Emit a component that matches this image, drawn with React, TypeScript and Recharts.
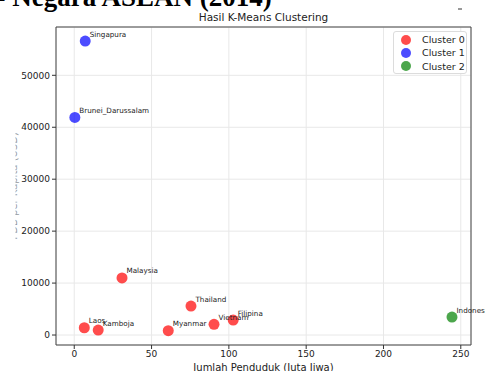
import React from 'react';
import {
  ScatterChart,
  Scatter,
  XAxis,
  YAxis,
  CartesianGrid,
  ReferenceArea,
} from 'recharts';

// data
const countries = ['Singapura', 'Brunei_Darussalam', 'Malaysia', 'Thailand', 'Filipina', 'Vietnam', 'Myanmar', 'Laos', 'Kamboja', 'Indonesia'];
const population = [7.1, 0.4, 30.9, 75.5, 102.8, 90.4, 60.8, 6.5, 15.5, 244.3];
const gdpPerCapita = [56600, 41900, 11000, 5580, 2880, 2060, 830, 1400, 960, 3460];
const clusterOf = [1, 1, 0, 0, 0, 0, 0, 0, 0, 2];

const clusterNames = ['Cluster 0', 'Cluster 1', 'Cluster 2'];
const clusterColors = ['#ff0000', '#0000ff', '#008000'];

const xTicks = [0, 50, 100, 150, 200, 250];
const yTicks = [0, 10000, 20000, 30000, 40000, 50000];

const xDomain: [number, number] = [-11.8, 256.6];
const yDomain: [number, number] = [-1920, 59300];

const W = 485;
const H = 371;

const points = countries.map((name, i) => ({
  name,
  pop: population[i],
  gdp: gdpPerCapita[i],
  cluster: clusterOf[i],
}));

const Dot = (color: string) => (props: any) => {
  const { cx, cy } = props;
  if (cx == null || cy == null) return null;
  return <circle cx={cx} cy={cy} r={5.5} fill={color} fillOpacity={0.7} />;
};

const NameLabel = (props: any) => {
  const { cx, cy, payload } = props;
  if (cx == null || cy == null) return null;
  return (
    <text x={cx + 4.5} y={cy - 4.5} fontSize={7.2} fill="#222">
      {payload.name}
    </text>
  );
};

const ClusterLegend = () => (
  <div
    style={{
      position: 'absolute',
      left: 393,
      top: 31,
      width: 74,
      height: 43,
      boxSizing: 'border-box',
      background: '#fff',
      border: '1px solid #dcdcdc',
      borderRadius: 3,
      padding: '1px 0 0 7px',
      fontSize: 9.5,
      color: '#222',
    }}
  >
    {clusterNames.map((n, i) => (
      <div key={n} style={{ display: 'flex', alignItems: 'center', height: 13.3, whiteSpace: 'nowrap' }}>
        <span
          style={{
            flex: 'none',
            width: 10,
            height: 10,
            borderRadius: '50%',
            background: clusterColors[i],
            opacity: 0.7,
            marginRight: 11,
          }}
        />
        <span>{n}</span>
      </div>
    ))}
  </div>
);

const tickStyle = { fontSize: 9, fill: '#222' };

export default function App() {
  return (
    <div style={{ position: 'absolute', left: 0, top: 0, width: W, height: H, overflow: 'hidden', background: '#fff', fontFamily: '"DejaVu Sans", sans-serif' }}>
      <ScatterChart width={W} height={H} margin={{ top: 27, right: 14, bottom: 0, left: 0 }}>
        <CartesianGrid stroke="#e8e8e8" />
        <XAxis
          type="number"
          dataKey="pop"
          domain={xDomain}
          ticks={xTicks}
          axisLine={false}
          tickSize={4}
          tickLine={{ stroke: '#333' }}
          tick={tickStyle}
          height={26}
        />
        <YAxis
          type="number"
          dataKey="gdp"
          domain={yDomain}
          ticks={yTicks}
          axisLine={false}
          tickSize={4}
          tickLine={{ stroke: '#333' }}
          tick={tickStyle}
          width={56}
        />
        <ReferenceArea x1={xDomain[0]} x2={xDomain[1]} y1={yDomain[0]} y2={yDomain[1]} fill="none" stroke="#444" strokeOpacity={1} ifOverflow="visible" />
        {clusterNames.map((n, c) => (
          <Scatter
            key={n}
            name={n}
            data={points.filter(p => p.cluster === c)}
            fill={clusterColors[c]}
            shape={Dot(clusterColors[c])}
            isAnimationActive={false}
          />
        ))}
        <Scatter data={points} shape={NameLabel} legendType="none" isAnimationActive={false} />
      </ScatterChart>
      <ClusterLegend />
      <svg width={W} height={H} style={{ position: 'absolute', left: 0, top: 0, pointerEvents: 'none' }}>
        <defs>
          <clipPath id="ylab-clip">
            <rect x={15.5} y={0} width={20} height={H} />
          </clipPath>
        </defs>
        <text x={-3.5} y={6} fontFamily='"Liberation Serif", serif' fontWeight="bold" fontSize={27} fill="#000">
          - Negara ASEAN (2014)
        </text>
        <line x1={458} x2={462} y1={9} y2={9} stroke="#333" />
        <text x={263.5} y={21} textAnchor="middle" fontSize={10.5} fill="#222">
          Hasil K-Means Clustering
        </text>
        <text x={263.5} y={370.5} textAnchor="middle" fontSize={10} fill="#222">
          Jumlah Penduduk (Juta Jiwa)
        </text>
        <g clipPath="url(#ylab-clip)">
          <text
            x={0}
            y={0}
            transform="translate(16.5,186) rotate(-90)"
            textAnchor="middle"
            fontSize={10}
            fill="#999"
          >
            PDB per Kapita (USD)
          </text>
        </g>
      </svg>
    </div>
  );
}
